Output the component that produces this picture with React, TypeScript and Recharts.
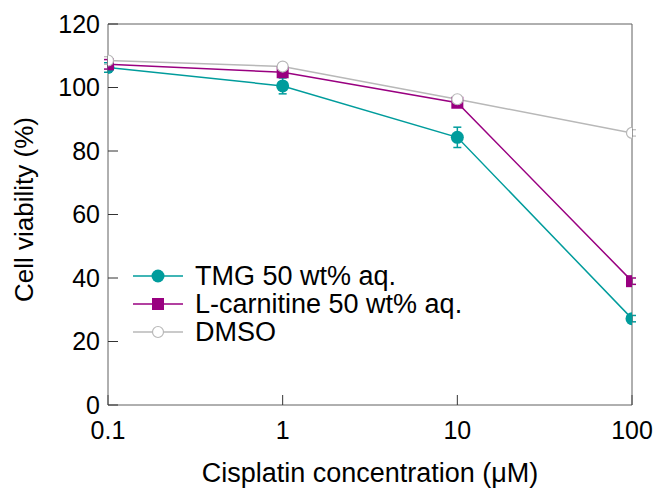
import { ComposedChart, ErrorBar, Line, ReferenceLine, XAxis, YAxis } from "recharts";

// cisplatin concentration (µM)
const conc = [0.1, 1, 10, 100];
const tmg = [106.3, 100.5, 84.3, 27.2];
const tmgErr = [1.5, 2.5, 3.2, 1.0];
const carnitine = [107.3, 104.8, 95.2, 39.0];
const carnitineErr = [1.5, 1.0, 1.0, 1.0];
const dmso = [108.5, 106.6, 96.3, 85.7];
const dmsoErr = [1.2, 1.0, 1.0, 1.0];

const xTicks = [0.1, 1, 10, 100];
const yTicks = [0, 20, 40, 60, 80, 100, 120];

const teal = "#009c9c";
const purple = "#990080";
const grey = "#b8b8b8";
const axisColor = "#606060";
const font = "'Liberation Sans', Arial, sans-serif";

const rows = conc.map((c, i) => ({
  conc: c,
  tmg: tmg[i],
  tmgErr: tmgErr[i],
  carnitine: carnitine[i],
  carnitineErr: carnitineErr[i],
  dmso: dmso[i],
  dmsoErr: dmsoErr[i]
}));

const legendItems = [
  { name: "TMG 50 wt% aq.", color: teal, marker: "circle" },
  { name: "L-carnitine 50 wt% aq.", color: purple, marker: "square" },
  { name: "DMSO", color: grey, marker: "open" }
];

function Marker({ kind, color, cx, cy }: { kind: string; color: string; cx: number; cy: number }) {
  if (kind === "square") return <rect x={cx - 6} y={cy - 6} width={12} height={12} fill={color} />;
  if (kind === "open") return <circle cx={cx} cy={cy} r={5.5} fill="#fff" stroke={color} strokeWidth={1.2} />;
  return <circle cx={cx} cy={cy} r={6.5} fill={color} />;
}

// legend drawn as an overlay so it does not eat plot space
function LegendBox() {
  return (
    <div style={{ position: "absolute", left: 133, top: 262, fontFamily: font, fontSize: 27, color: "#000", lineHeight: "28px" }}>
      {legendItems.map((it) => (
        <div key={it.name} style={{ display: "flex", alignItems: "center", height: 28, whiteSpace: "nowrap" }}>
          <svg width={62} height={20}>
            <line x1={0} y1={10} x2={50} y2={10} stroke={it.color} strokeWidth={1.5} />
            <Marker kind={it.marker} color={it.color} cx={25} cy={10} />
          </svg>
          <span>{it.name}</span>
        </div>
      ))}
    </div>
  );
}

export default function App() {
  return (
    <div style={{ position: "absolute", left: 0, top: 0, width: 656, height: 488, background: "#fff" }}>
      <ComposedChart width={656} height={488} data={rows} margin={{ top: 24, right: 23, bottom: 43, left: 48 }}>
        <XAxis
          dataKey="conc"
          type="number"
          scale="log"
          domain={[0.1, 100]}
          ticks={xTicks}
          allowDataOverflow
          height={40}
          stroke={axisColor}
          tickSize={-10}
          tickMargin={26}
          tickLine={{ stroke: "#333" }}
          tick={{ fill: "#000", fontSize: 25, fontFamily: font }}
          label={{
            value: "Cisplatin concentration (μM)",
            position: "bottom",
            offset: 18,
            fill: "#000",
            fontSize: 27,
            fontFamily: font
          }}
        />
        <YAxis
          type="number"
          domain={[0, 120]}
          ticks={yTicks}
          width={60}
          stroke={axisColor}
          tickSize={-10}
          tickMargin={18}
          tickLine={{ stroke: "#333" }}
          tick={{ fill: "#000", fontSize: 25, fontFamily: font }}
          label={{
            content: ({ viewBox }: any) => {
              const cx = viewBox.x - 15;
              const cy = viewBox.y + viewBox.height / 2 - 5;
              return (
                <text
                  x={cx}
                  y={cy}
                  transform={`rotate(-90, ${cx}, ${cy})`}
                  textAnchor="middle"
                  fontSize={26}
                  fontFamily={font}
                  fill="#000"
                >
                  Cell viability (%)
                </text>
              );
            }
          }}
        />
        <YAxis
          yAxisId="right"
          orientation="right"
          type="number"
          domain={[0, 120]}
          ticks={yTicks}
          width={1}
          stroke={axisColor}
          tickSize={-10}
          tickLine={{ stroke: "#333" }}
          tickFormatter={() => ""}
        />
        <ReferenceLine y={120} stroke={axisColor} />
        <Line
          dataKey="tmg"
          name="TMG 50 wt% aq."
          stroke={teal}
          strokeWidth={1.5}
          isAnimationActive={false}
          dot={(p: any) => <Marker key={p.index} kind="circle" color={teal} cx={p.cx} cy={p.cy} />}
          activeDot={false}
        >
          <ErrorBar dataKey="tmgErr" direction="y" width={4} stroke={teal} strokeWidth={1.5} />
        </Line>
        <Line
          dataKey="carnitine"
          name="L-carnitine 50 wt% aq."
          stroke={purple}
          strokeWidth={1.5}
          isAnimationActive={false}
          dot={(p: any) => <Marker key={p.index} kind="square" color={purple} cx={p.cx} cy={p.cy} />}
          activeDot={false}
        >
          <ErrorBar dataKey="carnitineErr" direction="y" width={4} stroke={purple} strokeWidth={1.5} />
        </Line>
        <Line
          dataKey="dmso"
          name="DMSO"
          stroke={grey}
          strokeWidth={1.5}
          isAnimationActive={false}
          dot={(p: any) => <Marker key={p.index} kind="open" color={grey} cx={p.cx} cy={p.cy} />}
          activeDot={false}
        >
          <ErrorBar dataKey="dmsoErr" direction="y" width={4} stroke={grey} strokeWidth={1.2} />
        </Line>
      </ComposedChart>
      <LegendBox />
    </div>
  );
}
